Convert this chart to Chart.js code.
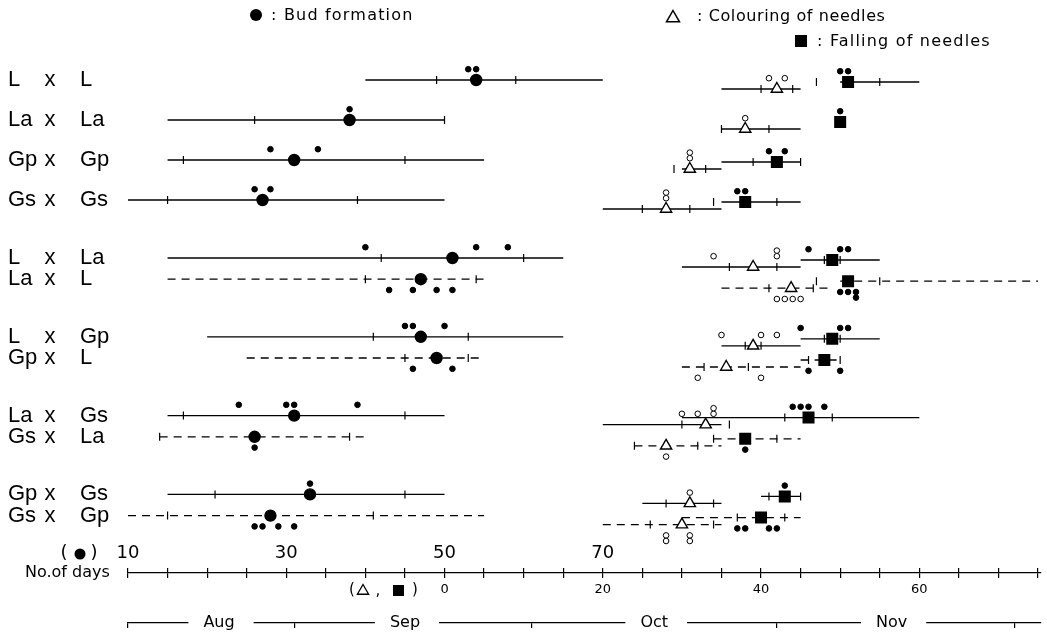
<!DOCTYPE html>
<html>
<head>
<meta charset="utf-8">
<script src="https://cdn.jsdelivr.net/npm/chart.js@4.4.1/dist/chart.umd.min.js"></script>
<style>
  html, body { margin: 0; padding: 0; background: #fff; }
  #wrap { width: 1047px; height: 638px; }
</style>
</head>
<body>
<div id="wrap"><canvas id="chart" width="1047" height="638"></canvas></div>
<script>
// crosses (female x male), the second of each pair is the reciprocal cross (dashed)
const crosses = [["L","L"],["La","La"],["Gp","Gp"],["Gs","Gs"],["L","La"],["La","L"],["L","Gp"],["Gp","L"],["La","Gs"],["Gs","La"],["Gp","Gs"],["Gs","Gp"]];
const reciprocal = [false,false,false,false,false,true,false,true,false,true,false,true];

// bud formation (no. of days)
const budMean = [54,38,31,27,51,47,47,49,31,26,33,28];
const budSD   = [5,12,14,12,9,7,6,4,14,12,12,13];
const budMin  = [40,15,15,10,15,15,20,25,15,14,15,10];
const budMax  = [70,50,55,50,65,55,65,55,50,40,50,55];
const budObs  = [[53,54],[38],[28,34],[26,28],[40,54,58],[43,46,49,51],[45,46,50],[46,51],[24,30,31,39],[26],[33],[26,27,29,31]];

// colouring of needles (second day scale)
const colMean = [42,38,31,28,39,43.8,39,35.6,33,28,31,30];
const colSD   = [2,3,2,3,3,2.8,1,2.8,3,4,3,4];
const colMin  = [35,35,30,20,30,35,35,30,20,24,25,20];
const colMax  = [45,45,35,35,45,49,45,45,35,35,35,35];
const colObs  = [[41,43],[38],[31,31],[28,28],[34,42,42],[42,43,44,45],[35,40,42],[32,40],[30,32,34,34],[28],[31],[28,28,31,31]];

// falling of needles (second day scale)
const fallMean = [51,50,42,38,49,51,49,48,46,38,43,40];
const fallSD   = [4,0,3,4,1,4,1,2,3,4,2,3];
const fallMin  = [50,50,35,35,45,50,45,45,30,34,40,30];
const fallMax  = [60,50,45,45,55,75,55,50,60,45,45,45];
const fallObs  = [[50,51],[50],[41,43],[37,38],[46,50,51],[50,51,52,52],[45,50,51],[46,50],[44,45,46,48],[38],[43],[37,38,41,42]];

// axis labels
const dayLabels  = [10,30,50,70];
const leafLabels = [0,20,40,60];
const months     = ["Aug","Sep","Oct","Nov"];
const monthMid   = [21.5,45,76.5,106.5]; // day where month name sits (day 0 = Aug 1)
const monthStart = [10,31,61,92,122];    // left end, Sep 1, Oct 1, Nov 1, Dec 1

// layout
const DAY_MIN = 10, DAY_MAX = 125.3, SHIFT = 50;
const Y_MAX = 14.325;
const rowY = i => i < 4 ? 2 + i : 6.45 + Math.floor((i - 4) / 2) * 1.97 + ((i - 4) % 2) * 0.53;
const OBS_OFF = 0.27, STACK_OFF = 0.14;

const series = [
  { axis: "x",  mean: budMean,  sd: budSD,  min: budMin,  max: budMax,  obs: budObs,  dy: 0,
    style: "circle", r: 5.5, fill: "#000", obsFill: "#000" },
  { axis: "x2", mean: colMean,  sd: colSD,  min: colMin,  max: colMax,  obs: colObs,  dy: 0.225,
    style: "triangle", r: 6.5, fill: "#fff", obsFill: "#fff" },
  { axis: "x2", mean: fallMean, sd: fallSD, min: fallMin, max: fallMax, obs: fallObs, dy: 0.05,
    style: "rect", r: 7.5, fill: "#000", obsFill: "#000" },
];

const datasets = [];
series.forEach(s => {
  const ticks = [], means = [], obs = [];
  crosses.forEach((c, i) => {
    const y = rowY(i) + s.dy;
    const dir = reciprocal[i] ? 1 : -1;
    if (s.max[i] > s.min[i]) {
      datasets.push({
        xAxisID: s.axis, showLine: true, order: 3,
        data: [{ x: s.min[i], y }, { x: s.max[i], y }],
        borderColor: "#000", borderWidth: 1.3,
        borderDash: reciprocal[i] ? [8, 6] : [],
        pointRadius: 0
      });
    }
    if (s.sd[i] > 0) {
      ticks.push({ x: s.mean[i] - s.sd[i], y }, { x: s.mean[i] + s.sd[i], y });
    }
    means.push({ x: s.mean[i], y });
    const seen = {};
    s.obs[i].forEach(v => {
      const k = seen[v] = (seen[v] || 0) + 1;
      obs.push({ x: v, y: y + dir * (OBS_OFF + (k - 1) * STACK_OFF) });
    });
  });
  datasets.push({ xAxisID: s.axis, data: ticks, order: 2, pointStyle: "line", pointRotation: 90,
    pointRadius: 4, pointBorderColor: "#000", pointBorderWidth: 1.2 });
  datasets.push({ xAxisID: s.axis, data: obs, order: 1, pointStyle: "circle", pointRadius: 2.8,
    pointBackgroundColor: s.obsFill, pointBorderColor: "#000", pointBorderWidth: 1 });
  datasets.push({ xAxisID: s.axis, data: means, order: 0, pointStyle: s.style, pointRadius: s.r,
    pointBackgroundColor: s.fill, pointBorderColor: "#000", pointBorderWidth: 1.4 });
});

function stepTicks(scale) {
  const out = [];
  for (let v = Math.ceil(scale.min / 5) * 5; v <= scale.max; v += 5) out.push({ value: v });
  scale.ticks = out;
}

// texts: row labels, legend, axis captions
const textPlugin = {
  id: "texts",
  afterDraw(chart) {
    const ctx = chart.ctx;
    const ys = chart.scales.y;
    ctx.save();
    ctx.fillStyle = "#000";
    ctx.strokeStyle = "#000";
    ctx.textBaseline = "middle";

    ctx.font = '22px "Liberation Sans"';
    crosses.forEach((c, i) => {
      const py = ys.getPixelForValue(rowY(i));
      ctx.textAlign = "left";
      ctx.fillText(c[0], 8, py);
      ctx.textAlign = "center";
      ctx.fillText("x", 50, py);
      ctx.textAlign = "left";
      ctx.fillText(c[1], 80, py);
    });

    // legend
    ctx.font = '16px "DejaVu Sans"';
    ctx.letterSpacing = "1.2px";
    ctx.beginPath(); ctx.arc(256, 15, 6, 0, Math.PI * 2); ctx.fill();
    ctx.fillText(": Bud formation", 271, 16);
    ctx.letterSpacing = "0.6px";
    drawTri(ctx, 673, 18, 7.5, 1.5);
    ctx.fillText(": Colouring of needles", 697, 17);
    ctx.fillRect(795, 35, 12, 12);
    ctx.letterSpacing = "1.2px";
    ctx.fillText(": Falling of needles", 817, 42);
    ctx.letterSpacing = "0px";

    // axis captions
    ctx.font = '18px "DejaVu Sans"';
    ctx.textAlign = "center";
    ctx.fillText("(", 64, 553);
    ctx.fillText(")", 94, 553);
    ctx.beginPath(); ctx.arc(80, 554, 5.5, 0, Math.PI * 2); ctx.fill();
    ctx.font = '16px "DejaVu Sans"';
    ctx.textAlign = "left";
    ctx.fillText("No.of days", 25, 573);
    ctx.font = '15px "DejaVu Sans"';
    ctx.textAlign = "center";
    ctx.fillText("(", 352, 590);
    drawTri(ctx, 363, 591, 6.5, 1.3);
    ctx.fillText(",", 378, 591);
    ctx.fillRect(393, 585, 11, 11);
    ctx.fillText(")", 415, 590);
    ctx.restore();
  }
};

function drawTri(ctx, x, y, r, lw) {
  ctx.beginPath();
  for (let k = 0; k < 3; k++) {
    const a = -Math.PI / 2 + k * 2 * Math.PI / 3;
    const px = x + Math.cos(a) * r, py = y + Math.sin(a) * r;
    if (k === 0) ctx.moveTo(px, py); else ctx.lineTo(px, py);
  }
  ctx.closePath();
  ctx.lineWidth = lw;
  ctx.stroke();
}

Chart.defaults.font.family = '"DejaVu Sans"';
Chart.defaults.color = "#000";

new Chart(document.getElementById("chart"), {
  type: "scatter",
  data: { datasets },
  options: {
    responsive: false,
    animation: false,
    devicePixelRatio: 1,
    events: [],
    layout: { autoPadding: false, padding: { left: 128, right: 0, top: 0, bottom: 0 } },
    plugins: { legend: { display: false }, tooltip: { enabled: false } },
    scales: {
      y: { type: "linear", display: false, reverse: true, min: 0, max: Y_MAX },
      x: {
        type: "linear", position: "bottom", weight: 0, min: DAY_MIN, max: DAY_MAX,
        afterBuildTicks: stepTicks,
        afterFit: s => { s.height = 0; },
        border: { display: false },
        grid: { drawOnChartArea: false, tickLength: -5, color: "#000", lineWidth: 1.2 },
        ticks: {
          autoSkip: false, maxRotation: 0, minRotation: 0, mirror: true, padding: 9,
          font: { size: 18 }, color: "#000",
          callback: v => dayLabels.includes(v) ? String(v) : ""
        }
      },
      x2: {
        type: "linear", position: "bottom", weight: 1, min: DAY_MIN - SHIFT, max: DAY_MAX - SHIFT,
        afterBuildTicks: stepTicks,
        afterFit: s => { s.height = 50; },
        border: { display: true, color: "#000", width: 1.3 },
        grid: { drawOnChartArea: false, tickLength: 5, color: "#000", lineWidth: 1.2 },
        ticks: {
          autoSkip: false, maxRotation: 0, minRotation: 0, padding: 4,
          font: { size: 13 }, color: "#000",
          callback: v => leafLabels.includes(v) ? String(v) : ""
        }
      },
      xm: {
        type: "linear", position: "bottom", weight: 2, min: DAY_MIN, max: DAY_MAX,
        afterBuildTicks: s => {
          s.ticks = monthStart.concat(monthMid).sort((a, b) => a - b).map(v => ({ value: v }));
        },
        afterFit: s => { s.height = 15; },
        border: { display: true, color: "#000", width: 1.3 },
        grid: {
          drawOnChartArea: false, tickLength: 5, lineWidth: 1.2,
          color: c => (c.tick && monthMid.includes(c.tick.value)) ? "rgba(0,0,0,0)" : "#000"
        },
        ticks: {
          autoSkip: false, maxRotation: 0, minRotation: 0, mirror: true, padding: -9.6,
          font: { size: 16 }, color: "#000",
          showLabelBackdrop: c => !!(c.tick && monthMid.includes(c.tick.value)),
          backdropColor: "#fff",
          backdropPadding: { top: 3, bottom: 3, left: 15, right: 19 },
          callback: v => { const k = monthMid.indexOf(v); return k >= 0 ? months[k] : ""; }
        }
      }
    }
  },
  plugins: [textPlugin]
});
</script>
</body>
</html>
